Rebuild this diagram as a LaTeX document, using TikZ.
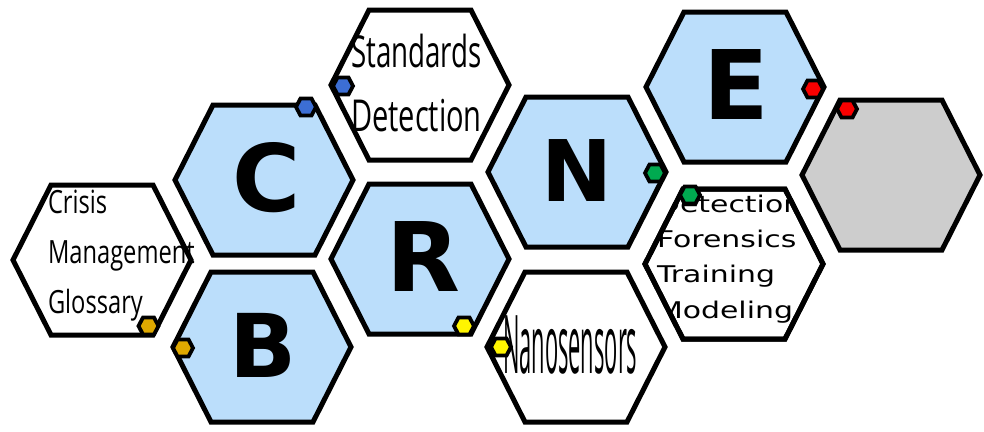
\documentclass[tikz,border=0pt]{standalone}
\usepackage{fontspec}
\usepackage{graphicx}
\newfontfamily\hexletterfont{DejaVu Sans}
\newfontfamily\hexlabelfont{Open Sans}
\newfontfamily\hexlistfont{DejaVu Sans}

\definecolor{cellblue}{RGB}{187,222,251}
\definecolor{cellgrey}{RGB}{205,205,205}
\definecolor{dotgold}{RGB}{222,168,0}
\definecolor{dotblue}{RGB}{60,110,212}
\definecolor{dotyellow}{RGB}{255,245,0}
\definecolor{dotgreen}{RGB}{0,170,80}
\definecolor{dotred}{RGB}{250,0,0}

\tikzstyle{cell border}=[line width=5pt,draw=black]
\tikzstyle{dot border}=[line width=3.8pt,draw=black]
\tikzstyle{cell letter}=[inner sep=0pt,outer sep=0pt]
\tikzstyle{cell text}=[inner sep=0pt,outer sep=0pt,anchor=base west]

% outline of one cell around a named centre
\newcommand{\hexpath}[1]{(#1) +(-89,0) -- +(-51,-75) -- +(51,-75)
    -- +(89,0) -- +(51,75) -- +(-51,75) -- cycle}
\newcommand{\hexcell}[3][cellblue]{
    \coordinate (#3) at (#2);
    \draw[cell border,fill=#1] \hexpath{#3};
}
\newcommand{\hexdot}[3]{
    \coordinate (#3) at (#1);
    \draw[dot border,fill=#2] (#3) +(-10,0) -- +(-5.5,-8.5) -- +(5.5,-8.5)
        -- +(10,0) -- +(5.5,8.5) -- +(-5.5,8.5) -- cycle;
}
\newcommand{\hexletter}[4]{
    \node[cell letter,font=\hexletterfont\bfseries\fontsize{#2}{#2}\selectfont]
        (#3) at (#1) {#4};
}
\newcommand{\squeeze}[2]{\scalebox{#1}[1]{#2}}

\begin{document}
\begin{tikzpicture}[x=1pt,y=-1pt]
    \useasboundingbox (0,0) rectangle (984,431);

    \hexcell[white]{102,260}{crisis}
    \hexcell{264,180}{C}
    \hexcell{262,347}{B}
    \hexcell[white]{420,85}{standards}
    \hexcell{420,259}{R}
    \hexcell{577,172}{N}
    \hexcell[white]{576,347}{nano}
    \hexcell{735,87}{E}
    \hexcell[white]{734,264}{detect}
    \hexcell[cellgrey]{891,175}{grey}

    \hexletter{267,178}{93}{C-letter}{C}
    \hexletter{263,345}{88}{B-letter}{B}
    \hexletter{423,257}{96}{R-letter}{R}
    \hexletter{577,171}{85}{N-letter}{N}
    \hexletter{736,85}{96}{E-letter}{E}

    \begin{scope}[every node/.style={cell text,
        font=\hexlabelfont\fontsize{32}{32}\selectfont}]
      \node (crisis-1) at (48,213) {\squeeze{0.74}{Crisis}};
      \node (crisis-2) at (48,263) {\squeeze{0.74}{Management}};
      \node (crisis-3) at (48,313) {\squeeze{0.74}{Glossary}};
    \end{scope}
    \begin{scope}[every node/.style={cell text,
        font=\hexlabelfont\fontsize{44}{44}\selectfont}]
      \node (standards-1) at (351,67) {\squeeze{0.63}{Standards}};
      \node (standards-2) at (351,131) {\squeeze{0.66}{Detection}};
    \end{scope}
    \node[cell text,font=\hexlabelfont\fontsize{81}{81}\selectfont]
        (nano-1) at (503,373) {\squeeze{0.27}{Nanosensors}};

    % the list is cut off by the cell outline
    \begin{scope}[every node/.style={cell text,
        font=\hexlistfont\fontsize{23}{23}\selectfont}]
      \clip \hexpath{detect};
      \node (detect-1) at (657,212) {\squeeze{1.3}{Detection}};
      \node (detect-2) at (657,247) {\squeeze{1.3}{Forensics}};
      \node (detect-3) at (657,282) {\squeeze{1.3}{Training}};
      \node (detect-4) at (657,318) {\squeeze{1.3}{Modeling}};
    \end{scope}
    \draw[cell border] \hexpath{detect};

    \hexdot{148.5,326}{dotgold}{dot-crisis}
    \hexdot{183,348}{dotgold}{dot-B}
    \hexdot{306,107}{dotblue}{dot-C}
    \hexdot{343,86}{dotblue}{dot-standards}
    \hexdot{464,326}{dotyellow}{dot-R}
    \hexdot{501,347}{dotyellow}{dot-nano}
    \hexdot{655,173}{dotgreen}{dot-N}
    \hexdot{690,195}{dotgreen}{dot-detect}
    \hexdot{813,89}{dotred}{dot-E}
    \hexdot{847,109}{dotred}{dot-grey}
\end{tikzpicture}
\end{document}
